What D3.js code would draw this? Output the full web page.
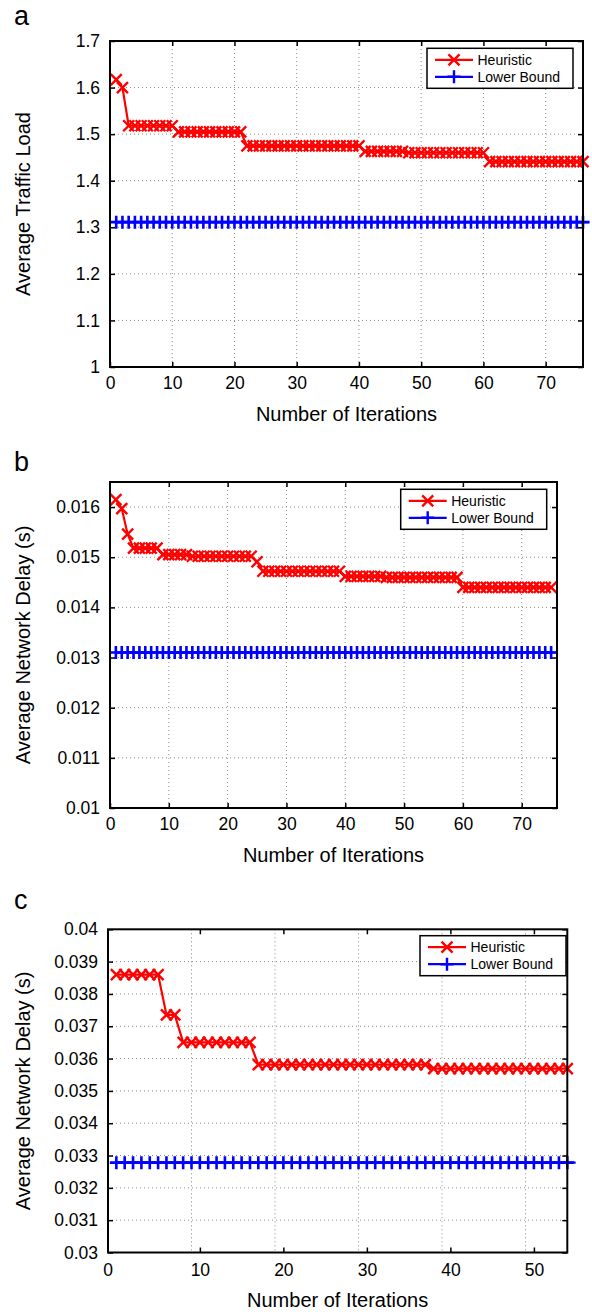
<!DOCTYPE html>
<html><head><meta charset="utf-8">
<script src="https://cdn.jsdelivr.net/npm/d3@7"></script>
<style>
body{margin:0;background:#fff}
svg{display:block}
text{font-family:"Liberation Sans",Arial,Helvetica,sans-serif;fill:#000}
</style>
</head><body>
<svg id="chart" width="592" height="1312"></svg>
<script>
// ---------- data ----------
const seriesNames = ["Heuristic", "Lower Bound"];

const xTicksA = [0, 10, 20, 30, 40, 50, 60, 70];
const yTicksA = [1, 1.1, 1.2, 1.3, 1.4, 1.5, 1.6, 1.7];
const heuristicA = [
  1.617, 1.600,
  1.518, 1.518, 1.518, 1.518, 1.518, 1.518, 1.518, 1.518,
  1.505, 1.505, 1.505, 1.505, 1.505, 1.505, 1.505, 1.505, 1.505, 1.505, 1.505,
  1.475, 1.475, 1.475, 1.475, 1.475, 1.475, 1.475, 1.475, 1.475, 1.475,
  1.475, 1.475, 1.475, 1.475, 1.475, 1.475, 1.475, 1.475, 1.475,
  1.463, 1.463, 1.463, 1.463, 1.463, 1.463, 1.463,
  1.460, 1.460, 1.460, 1.460, 1.460, 1.460, 1.460, 1.460, 1.460, 1.460, 1.460, 1.460, 1.460,
  1.441, 1.441, 1.441, 1.441, 1.441, 1.441, 1.441, 1.441,
  1.441, 1.441, 1.441, 1.441, 1.441, 1.441, 1.441, 1.441
];
const lowerA = [
  1.311, 1.311, 1.311, 1.311, 1.311, 1.311, 1.311, 1.311, 1.311, 1.311,
  1.311, 1.311, 1.311, 1.311, 1.311, 1.311, 1.311, 1.311, 1.311, 1.311,
  1.311, 1.311, 1.311, 1.311, 1.311, 1.311, 1.311, 1.311, 1.311, 1.311,
  1.311, 1.311, 1.311, 1.311, 1.311, 1.311, 1.311, 1.311, 1.311, 1.311,
  1.311, 1.311, 1.311, 1.311, 1.311, 1.311, 1.311, 1.311, 1.311, 1.311,
  1.311, 1.311, 1.311, 1.311, 1.311, 1.311, 1.311, 1.311, 1.311, 1.311,
  1.311, 1.311, 1.311, 1.311, 1.311, 1.311, 1.311, 1.311, 1.311, 1.311,
  1.311, 1.311, 1.311, 1.311, 1.311, 1.311
];

const xTicksB = [0, 10, 20, 30, 40, 50, 60, 70];
const yTicksB = [0.010, 0.011, 0.012, 0.013, 0.014, 0.015, 0.016];
const heuristicB = [
  0.01615, 0.01597, 0.01546,
  0.01518, 0.01518, 0.01518, 0.01518, 0.01518,
  0.01505, 0.01505, 0.01505, 0.01505, 0.01505,
  0.01502, 0.01502, 0.01502, 0.01502, 0.01502, 0.01502, 0.01502, 0.01502, 0.01502, 0.01502, 0.01502,
  0.01491,
  0.01472, 0.01472, 0.01472, 0.01472, 0.01472, 0.01472, 0.01472,
  0.01472, 0.01472, 0.01472, 0.01472, 0.01472, 0.01472, 0.01472,
  0.01462, 0.01462, 0.01462, 0.01462, 0.01462, 0.01462, 0.01462,
  0.01460, 0.01460, 0.01460, 0.01460, 0.01460, 0.01460, 0.01460, 0.01460, 0.01460, 0.01460, 0.01460, 0.01460, 0.01460,
  0.01440, 0.01440, 0.01440, 0.01440, 0.01440, 0.01440, 0.01440, 0.01440,
  0.01440, 0.01440, 0.01440, 0.01440, 0.01440, 0.01440, 0.01440, 0.01440
];
const lowerB = [
  0.0131, 0.0131, 0.0131, 0.0131, 0.0131, 0.0131, 0.0131, 0.0131, 0.0131, 0.0131,
  0.0131, 0.0131, 0.0131, 0.0131, 0.0131, 0.0131, 0.0131, 0.0131, 0.0131, 0.0131,
  0.0131, 0.0131, 0.0131, 0.0131, 0.0131, 0.0131, 0.0131, 0.0131, 0.0131, 0.0131,
  0.0131, 0.0131, 0.0131, 0.0131, 0.0131, 0.0131, 0.0131, 0.0131, 0.0131, 0.0131,
  0.0131, 0.0131, 0.0131, 0.0131, 0.0131, 0.0131, 0.0131, 0.0131, 0.0131, 0.0131,
  0.0131, 0.0131, 0.0131, 0.0131, 0.0131, 0.0131, 0.0131, 0.0131, 0.0131, 0.0131,
  0.0131, 0.0131, 0.0131, 0.0131, 0.0131, 0.0131, 0.0131, 0.0131, 0.0131, 0.0131,
  0.0131, 0.0131, 0.0131, 0.0131, 0.0131
];

const xTicksC = [0, 10, 20, 30, 40, 50];
const yTicksC = [0.030, 0.031, 0.032, 0.033, 0.034, 0.035, 0.036, 0.037, 0.038, 0.039, 0.040];
const heuristicC = [
  0.0386, 0.0386, 0.0386, 0.0386, 0.0386, 0.0386,
  0.03735, 0.03735,
  0.0365, 0.0365, 0.0365, 0.0365, 0.0365, 0.0365, 0.0365, 0.0365, 0.0365,
  0.03581, 0.03581, 0.03581, 0.03581, 0.03581, 0.03581, 0.03581,
  0.03581, 0.03581, 0.03581, 0.03581, 0.03581, 0.03581, 0.03581,
  0.03581, 0.03581, 0.03581, 0.03581, 0.03581, 0.03581, 0.03581,
  0.03569, 0.03569, 0.03569, 0.03569, 0.03569, 0.03569, 0.03569, 0.03569, 0.03569,
  0.03569, 0.03569, 0.03569, 0.03569, 0.03569, 0.03569, 0.03569, 0.03569
];
const lowerC = [
  0.03278, 0.03278, 0.03278, 0.03278, 0.03278, 0.03278, 0.03278, 0.03278, 0.03278, 0.03278,
  0.03278, 0.03278, 0.03278, 0.03278, 0.03278, 0.03278, 0.03278, 0.03278, 0.03278, 0.03278,
  0.03278, 0.03278, 0.03278, 0.03278, 0.03278, 0.03278, 0.03278, 0.03278, 0.03278, 0.03278,
  0.03278, 0.03278, 0.03278, 0.03278, 0.03278, 0.03278, 0.03278, 0.03278, 0.03278, 0.03278,
  0.03278, 0.03278, 0.03278, 0.03278, 0.03278, 0.03278, 0.03278, 0.03278, 0.03278, 0.03278,
  0.03278, 0.03278, 0.03278, 0.03278, 0.03278
];

// ---------- layout ----------
const panels = [
  { letter: "a", letterY: 25, left: 110, right: 583, top: 41, bottom: 367,
    xMax: 76, yDomain: [1, 1.7], xTicks: xTicksA, yTicks: yTicksA,
    heur: heuristicA, low: lowerA, ylabel: "Average Traffic Load",
    fmt: d => String(+d.toFixed(1)), tickShift: 0, xTickPad: 9.6,
    legend: { x: 427, y: 48.3 } },
  { letter: "b", letterY: 471, left: 110, right: 557, top: 482, bottom: 808,
    xMax: 76, yDomain: [0.01, 0.0165], xTicks: xTicksB, yTicks: yTicksB,
    heur: heuristicB, low: lowerB, ylabel: "Average Network Delay (s)",
    fmt: d => String(+d.toFixed(3)), tickShift: 0, xTickPad: 9.6,
    legend: { x: 400.7, y: 489.3 } },
  { letter: "c", letterY: 909, left: 108, right: 567.3, top: 929.3, bottom: 1252.5,
    xMax: 55, yDomain: [0.03, 0.04], xTicks: xTicksC, yTicks: yTicksC,
    heur: heuristicC, low: lowerC, ylabel: "Average Network Delay (s)",
    fmt: d => String(+d.toFixed(3)), tickShift: 1, xTickPad: 11,
    legend: { x: 420, y: 935.7 } }
];

const RED = "#ff0000", BLUE = "#0000ff";
const svg = d3.select("#chart");

function crossPath(s) { return `M${-s},${-s}L${s},${s}M${-s},${s}L${s},${-s}`; }
function plusPath(s) { return `M${-s},0L${s},0M0,${-s}L0,${s}`; }

panels.forEach(p => {
  const g = svg.append("g");
  const x = d3.scaleLinear().domain([0, p.xMax]).range([p.left, p.right]);
  const tx = d3.scaleLinear().domain([-p.tickShift, p.xMax - p.tickShift]).range([p.left, p.right]);
  const y = d3.scaleLinear().domain(p.yDomain).range([p.bottom, p.top]);

  // grid
  const grid = g.append("g").attr("stroke", "#8a8a8a").attr("stroke-width", 1).attr("stroke-dasharray", "1,3");
  grid.selectAll("line.vx").data(p.xTicks.filter(t => t > 0)).join("line")
    .attr("x1", d => x(d)).attr("x2", d => x(d)).attr("y1", p.top).attr("y2", p.bottom);
  grid.selectAll("line.hy").data(p.yTicks.filter((t, i) => i > 0 && y(t) > p.top + 1)).join("line")
    .attr("x1", p.left).attr("x2", p.right).attr("y1", d => y(d)).attr("y2", d => y(d));

  // axes
  const tickStyle = sel => {
    sel.select(".domain").remove();
    sel.selectAll(".tick line").attr("stroke", "#000").attr("stroke-width", 1.5);
    sel.selectAll(".tick text").style("font-size", "17.5px").attr("fill", "#000");
  };
  const bottomAx = g.append("g").attr("transform", `translate(0,${p.bottom})`)
    .call(d3.axisBottom(tx).tickValues(p.xTicks).tickSizeInner(-5).tickSizeOuter(0).tickPadding(p.xTickPad).tickFormat(d => String(d)))
    .call(tickStyle);
  if (p.tickShift) {
    bottomAx.selectAll(".tick").filter(d => d === 0)
      .attr("transform", `translate(${x(0)},0)`).select("line").remove();
  }
  g.append("g").attr("transform", `translate(0,${p.top})`)
    .call(d3.axisTop(tx).tickValues(p.xTicks.filter(t => t > 0)).tickSizeInner(-5).tickSizeOuter(0).tickFormat(""))
    .call(tickStyle);
  g.append("g").attr("transform", `translate(${p.left},0)`)
    .call(d3.axisLeft(y).tickValues(p.yTicks).tickSizeInner(-5).tickSizeOuter(0).tickPadding(10).tickFormat(p.fmt))
    .call(tickStyle);
  g.append("g").attr("transform", `translate(${p.right},0)`)
    .call(d3.axisRight(y).tickValues(p.yTicks).tickSizeInner(-5).tickSizeOuter(0).tickFormat(""))
    .call(tickStyle);

  // lower bound (line runs one step beyond its last marker)
  const lowPts = p.low.map((v, i) => ({ i: i + 1, v }));
  const lowLine = lowPts.concat([{ i: lowPts.length + 1, v: lowPts[lowPts.length - 1].v }]);
  const line = d3.line().x(d => x(d.i)).y(d => y(d.v));
  g.append("path").datum(lowLine).attr("d", line).attr("fill", "none").attr("stroke", BLUE).attr("stroke-width", 2.2);
  g.append("g").selectAll("path").data(lowPts).join("path")
    .attr("transform", d => `translate(${x(d.i)},${y(d.v)})`)
    .attr("d", plusPath(6.5)).attr("stroke", BLUE).attr("stroke-width", 2.6).attr("fill", "none");

  // heuristic
  const heurPts = p.heur.map((v, i) => ({ i: i + 1, v }));
  g.append("path").datum(heurPts).attr("d", line).attr("fill", "none").attr("stroke", RED).attr("stroke-width", 2.2);
  g.append("g").selectAll("path").data(heurPts).join("path")
    .attr("transform", d => `translate(${x(d.i)},${y(d.v)})`)
    .attr("d", crossPath(5.5)).attr("stroke", RED).attr("stroke-width", 2.4).attr("fill", "none");

  // frame
  g.append("rect").attr("x", p.left).attr("y", p.top).attr("width", p.right - p.left).attr("height", p.bottom - p.top)
    .attr("fill", "none").attr("stroke", "#000").attr("stroke-width", 2);

  // labels
  g.append("text").attr("x", (p.left + p.right) / 2).attr("y", p.bottom + 54)
    .attr("text-anchor", "middle").style("font-size", "20px").text("Number of Iterations");
  g.append("text").attr("transform", `translate(29.5,${(p.top + p.bottom) / 2}) rotate(-90)`)
    .attr("text-anchor", "middle").style("font-size", "20px").text(p.ylabel);
  g.append("text").attr("x", 14).attr("y", p.letterY).style("font-size", "27px").text(p.letter);

  // legend
  const L = g.append("g").attr("transform", `translate(${p.legend.x},${p.legend.y})`);
  L.append("rect").attr("width", 146).attr("height", 40).attr("fill", "#fff").attr("stroke", "#000").attr("stroke-width", 1.5);
  const rows = [{ name: seriesNames[0], color: RED, mk: crossPath(5.5), ry: 11.5 },
                { name: seriesNames[1], color: BLUE, mk: plusPath(6.5), ry: 28.5 }];
  rows.forEach(r => {
    L.append("line").attr("x1", 8).attr("x2", 46).attr("y1", r.ry).attr("y2", r.ry).attr("stroke", r.color).attr("stroke-width", 2.2);
    L.append("path").attr("transform", `translate(27,${r.ry})`).attr("d", r.mk).attr("stroke", r.color).attr("stroke-width", 2.4);
    L.append("text").attr("x", 50.5).attr("y", r.ry).attr("dy", "0.35em").style("font-size", "14px").text(r.name);
  });
});
</script>
</body></html>
